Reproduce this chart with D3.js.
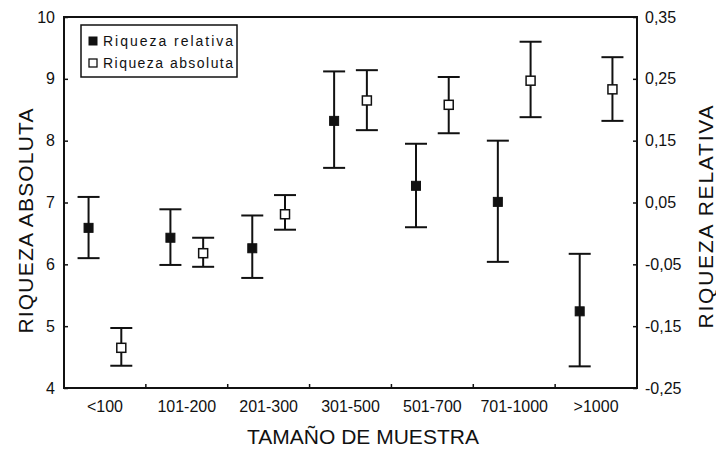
<!DOCTYPE html>
<html>
<head>
<meta charset="utf-8">
<script src="https://cdn.jsdelivr.net/npm/d3@7"></script>
<style>
  body { margin: 0; background: #fff; }
  svg { font-family: "Liberation Sans", Arial, sans-serif; }
</style>
</head>
<body>
<svg width="716" height="450"></svg>
<script>
// カテゴリ（標本サイズ）
const categories = ['<100', '101-200', '201-300', '301-500', '501-700', '701-1000', '>1000']

// 絶対的豊富さ（左軸）: 平均と誤差範囲
const absMean = [4.65, 6.18, 6.81, 8.65, 8.58, 8.97, 8.83]
const absLow = [4.36, 5.96, 6.56, 8.17, 8.12, 8.38, 8.32]
const absHigh = [4.97, 6.43, 7.12, 9.14, 9.03, 9.60, 9.35]

// 相対的豊富さ（右軸）
const relMean = [0.009, -0.007, -0.024, 0.182, 0.077, 0.051, -0.126]
const relLow = [-0.040, -0.051, -0.072, 0.106, 0.010, -0.046, -0.215]
const relHigh = [0.059, 0.039, 0.029, 0.262, 0.145, 0.150, -0.033]

// 軸の目盛り
const leftTicks = [4, 5, 6, 7, 8, 9, 10]
const rightTicks = [-0.25, -0.15, -0.05, 0.05, 0.15, 0.25, 0.35]

const svg = d3.select('svg')
const plotL = 64, plotR = 637, plotT = 17, plotB = 388

const xScale = d3.scaleBand().domain(categories).range([plotL, plotR])
const yAbs = d3.scaleLinear().domain([4, 10]).range([plotB, plotT])
const yRel = d3.scaleLinear().domain([-0.25, 0.35]).range([plotB, plotT])
const bw = xScale.bandwidth()

// 左軸
const gl = svg.append('g')
  .attr('transform', `translate(${plotL},0)`)
  .call(d3.axisLeft(yAbs).tickValues(leftTicks).tickSize(-4).tickPadding(9).tickFormat(d3.format('d')))
gl.select('.domain').remove()

// 右軸（小数点はカンマ）
const gr = svg.append('g')
  .attr('transform', `translate(${plotR},0)`)
  .call(d3.axisRight(yRel).tickValues(rightTicks).tickSize(-4).tickPadding(8)
    .tickFormat((d) => d3.format('.2f')(d).replace('.', ',').replace('\u2212', '-')))
gr.select('.domain').remove()

// 下軸（ラベルのみ、目盛りは区切り位置）
const gb = svg.append('g')
  .attr('transform', `translate(0,${plotB})`)
  .call(d3.axisBottom(xScale).tickSize(0).tickPadding(13))
gb.select('.domain').remove()
svg.append('g')
  .selectAll('line')
  .data(categories.slice(1))
  .enter()
  .append('line')
  .attr('x1', (d) => xScale(d))
  .attr('x2', (d) => xScale(d))
  .attr('y1', plotB)
  .attr('y2', plotB - 4)
  .attr('stroke', '#111')
  .attr('stroke-width', 1.5)

svg.selectAll('.tick text')
  .attr('font-size', 16)
  .attr('font-family', '"Liberation Sans", Arial, sans-serif')
  .attr('fill', '#111')
svg.selectAll('.tick line').attr('stroke', '#111').attr('stroke-width', 1.5)

// 枠
svg.append('rect')
  .attr('x', plotL).attr('y', plotT)
  .attr('width', plotR - plotL).attr('height', plotB - plotT)
  .attr('fill', 'none').attr('stroke', '#111').attr('stroke-width', 2)

// エラーバー描画
function drawSeries (mean, low, high, yScale, offset, filled) {
  const g = svg.append('g')
  const cx = (i) => xScale(categories[i]) + bw * offset
  const idx = d3.range(categories.length)
  g.selectAll('line.whisker').data(idx).enter().append('line')
    .attr('x1', cx).attr('x2', cx)
    .attr('y1', (i) => yScale(low[i])).attr('y2', (i) => yScale(high[i]))
    .attr('stroke', '#111').attr('stroke-width', 2)
  g.selectAll('line.capHi').data(idx).enter().append('line')
    .attr('x1', (i) => cx(i) - 11).attr('x2', (i) => cx(i) + 11)
    .attr('y1', (i) => yScale(high[i])).attr('y2', (i) => yScale(high[i]))
    .attr('stroke', '#111').attr('stroke-width', 2)
  g.selectAll('line.capLo').data(idx).enter().append('line')
    .attr('x1', (i) => cx(i) - 11).attr('x2', (i) => cx(i) + 11)
    .attr('y1', (i) => yScale(low[i])).attr('y2', (i) => yScale(low[i]))
    .attr('stroke', '#111').attr('stroke-width', 2)
  g.selectAll('rect').data(idx).enter().append('rect')
    .attr('x', (i) => cx(i) - 4.5).attr('y', (i) => yScale(mean[i]) - 4.5)
    .attr('width', 9).attr('height', 9)
    .attr('fill', filled ? '#111' : '#fff')
    .attr('stroke', '#111').attr('stroke-width', filled ? 1 : 1.5)
}

drawSeries(relMean, relLow, relHigh, yRel, 0.3, true)
drawSeries(absMean, absLow, absHigh, yAbs, 0.7, false)

// 凡例
const legend = svg.append('g')
legend.append('rect')
  .attr('x', 81).attr('y', 25).attr('width', 156).attr('height', 52)
  .attr('fill', '#fff').attr('stroke', '#111').attr('stroke-width', 1.5)
const legendItems = [['Riqueza relativa', true], ['Riqueza absoluta', false]]
legendItems.forEach((item, i) => {
  const y = 41 + i * 22
  legend.append('rect')
    .attr('x', 89).attr('y', y - 4).attr('width', 8).attr('height', 8)
    .attr('fill', item[1] ? '#111' : '#fff')
    .attr('stroke', '#111').attr('stroke-width', item[1] ? 1 : 1.3)
  legend.append('text')
    .attr('x', 103).attr('y', y + 5)
    .attr('font-size', 14)
    .attr('textLength', 130)
    .attr('lengthAdjust', 'spacing')
    .attr('fill', '#111')
    .text(item[0])
})

// 軸タイトル
svg.append('text')
  .attr('transform', 'translate(33,221) rotate(-90)')
  .attr('text-anchor', 'middle')
  .attr('font-size', 21)
  .attr('textLength', 225)
  .attr('lengthAdjust', 'spacing')
  .attr('fill', '#111')
  .text('RIQUEZA ABSOLUTA')

svg.append('text')
  .attr('transform', 'translate(713,217) rotate(-90)')
  .attr('text-anchor', 'middle')
  .attr('font-size', 21)
  .attr('textLength', 223)
  .attr('lengthAdjust', 'spacing')
  .attr('fill', '#111')
  .text('RIQUEZA RELATIVA')

svg.append('text')
  .attr('x', 363).attr('y', 444)
  .attr('text-anchor', 'middle')
  .attr('font-size', 21)
  .attr('fill', '#111')
  .text('TAMAÑO DE MUESTRA')
</script>
</body>
</html>
